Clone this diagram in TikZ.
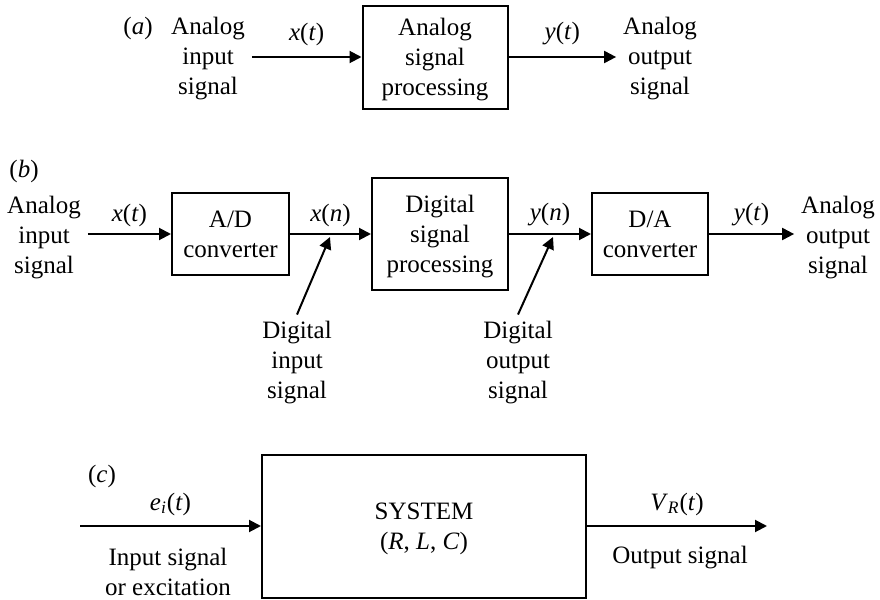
\documentclass[tikz,border=0pt]{standalone}
\usepackage{fontspec}
\setmainfont{Liberation Serif}
\usetikzlibrary{arrows.meta}
\newcommand{\sg}[2]{\textit{#1}(\textit{#2})}

\begin{document}
\begin{tikzpicture}[x=0.5pt, y=-0.5pt,
  every node/.style={font=\fontsize{12.5}{15}\selectfont, align=center},
  blk/.style={draw, line width=1pt, inner sep=0pt, text depth=0pt},
  sigline/.style={line width=1pt, -{Triangle[length=6pt, width=6pt]}},
  lbl/.style={midway, inner sep=0pt}]
\useasboundingbox (0,0) rectangle (880,600);
% (a)
\node (la) at (138,28) {(\textit{a})};
\node (ai) at (208,59) {Analog\\input\\signal};
\node [blk, minimum width=72.5pt, minimum height=51.5pt] (ap) at (435,57) {Analog\\signal\\processing};
\node (ao) at (660,59) {Analog\\output\\signal};
\draw [sigline] (ai.east |- ap) -- node [lbl, yshift=11.5pt] {\sg{x}{t}} (ap);
\draw [sigline] (ap) -- node [lbl, yshift=11.5pt] {\sg{y}{t}} (ap -| ao.west);
% (b)
\node (lb) at (24,171) {(\textit{b})};
\node (bi) at (44,238) {Analog\\input\\signal};
\node [blk, minimum width=58.5pt, minimum height=41pt] (ad) at (230.5,234) {A/D\\converter};
\node [blk, minimum width=68pt, minimum height=56pt] (dp) at (440,234) {Digital\\signal\\processing};
\node [blk, minimum width=58pt, minimum height=41pt] (da) at (650,234) {D/A\\converter};
\node (bo) at (838,238) {Analog\\output\\signal};
\node (di) at (297,363) {Digital\\input\\signal};
\node (dq) at (518,363) {Digital\\output\\signal};
\coordinate (xn) at (330,237);
\coordinate (yn) at (553,237);
\draw [sigline] (bi.east |- ad) -- node [lbl, yshift=9.5pt] {\sg{x}{t}} (ad);
\draw [sigline] (ad) -- node [lbl, yshift=9.5pt] {\sg{x}{n}} (dp);
\draw [sigline] (dp) -- node [lbl, yshift=9.5pt] {\sg{y}{n}} (da);
\draw [sigline] (da) -- node [lbl, yshift=9.5pt] {\sg{y}{t}} (da -| bo.west);
\draw [sigline] (di.north) -- (xn);
\draw [sigline] (dq.north) -- (yn);
% (c)
\node (lc) at (102,476) {(\textit{c})};
\node [blk, minimum width=162pt, minimum height=71.5pt] (sy) at (424,526) {SYSTEM\\(\textit{R}, \textit{L}, \textit{C})};
\coordinate (ci) at (80,526);
\coordinate (co) at (767,526);
\node (it) at (168,572) {Input signal\\or excitation};
\node (ot) at (680,558) {Output signal};
\draw [sigline] (ci) -- node [lbl, yshift=11pt] {\textit{e}\textsubscript{\textit{i}}(\textit{t})} (sy);
\draw [sigline] (sy) -- node [lbl, yshift=11pt] {\textit{V}\textsubscript{\textit{R}}(\textit{t})} (co);
\end{tikzpicture}
\end{document}
